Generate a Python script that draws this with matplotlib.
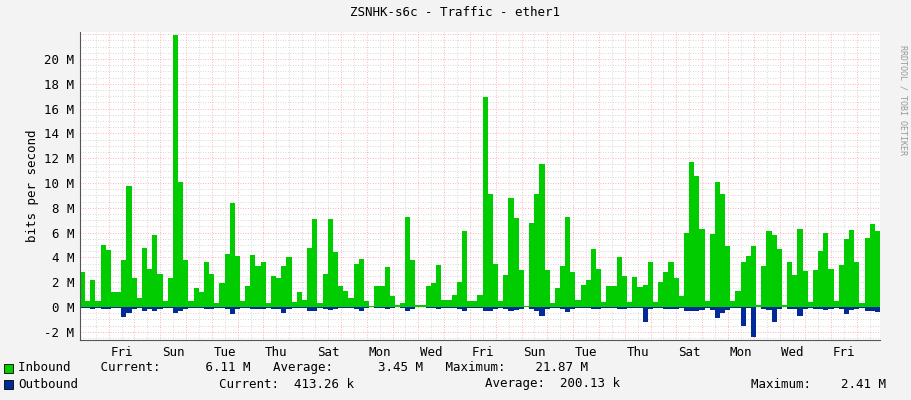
import numpy as np
import matplotlib.pyplot as plt

# inbound / outbound traffic, Mbit/s, one value per sample (about 5 h each)
inbound = [2.8, 0.5, 2.2, 0.5, 5.0, 4.6, 1.2, 1.2, 3.8, 9.8,
           2.3, 0.7, 4.8, 3.1, 5.8, 2.7, 0.5, 2.3, 21.9, 10.1,
           3.8, 0.5, 1.5, 1.2, 3.6, 2.7, 0.3, 1.9, 4.3, 8.4,
           4.1, 0.5, 1.7, 4.2, 3.3, 3.6, 0.3, 2.5, 2.3, 3.3,
           4.0, 0.4, 1.2, 0.6, 4.8, 7.1, 0.3, 2.7, 7.1, 4.4,
           1.7, 1.3, 0.7, 3.5, 3.9, 0.5, 0.1, 1.7, 1.7, 3.2,
           0.9, 0.2, 0.3, 7.3, 3.8, 0.2, 0.2, 1.7, 1.9, 3.4,
           0.6, 0.6, 1.0, 2.0, 6.1, 0.5, 0.5, 1.0, 16.9,
           9.1, 3.5, 0.5, 2.6, 8.8, 7.2, 3.0, 0.05, 6.8, 9.1,
           11.5, 3.0, 0.3, 1.5, 3.3, 7.3, 2.8, 0.6, 1.8, 2.2,
           4.7, 3.1, 0.4, 1.7, 1.7, 4.0, 2.5, 0.4, 2.4, 1.6,
           1.8, 3.6, 0.4, 2.0, 2.8, 3.6, 2.3, 0.9, 6.0, 11.7,
           10.6, 6.3, 0.5, 5.9, 10.1, 9.1, 4.9, 0.5, 1.3, 3.6,
           4.1, 4.9, 0.2, 3.3, 6.1, 5.8, 4.7, 0.2, 3.6, 2.6,
           6.3, 2.9, 0.4, 3.0, 4.5, 6.0, 3.1, 0.5, 3.4, 5.5,
           6.2, 3.6, 0.3, 5.6, 6.7, 6.1]
outbound = [-0.1, -0.05, -0.15, -0.05, -0.2, -0.2, -0.1, -0.1, -0.8, -0.5,
            -0.15, -0.05, -0.3, -0.15, -0.3, -0.15, -0.05, -0.1, -0.45, -0.3,
            -0.15, -0.05, -0.1, -0.1, -0.2, -0.15, -0.05, -0.1, -0.2, -0.6,
            -0.2, -0.05, -0.1, -0.2, -0.15, -0.2, -0.05, -0.15, -0.15, -0.5,
            -0.2, -0.05, -0.1, -0.05, -0.3, -0.3, -0.05, -0.15, -0.25, -0.2,
            -0.1, -0.1, -0.05, -0.2, -0.3, -0.05, -0.02, -0.1, -0.1, -0.15,
            -0.05, -0.02, -0.05, -0.3, -0.2, -0.02, -0.02, -0.1, -0.1, -0.15,
            -0.05, -0.05, -0.1, -0.2, -0.3, -0.05, -0.05, -0.1, -0.3,
            -0.3, -0.2, -0.05, -0.15, -0.3, -0.25, -0.15, -0.02, -0.2, -0.3,
            -0.7, -0.2, -0.05, -0.1, -0.2, -0.4, -0.15, -0.05, -0.1, -0.1,
            -0.2, -0.15, -0.05, -0.1, -0.1, -0.2, -0.15, -0.05, -0.1, -0.1,
            -1.2, -0.2, -0.05, -0.1, -0.15, -0.2, -0.15, -0.05, -0.3, -0.35,
            -0.35, -0.25, -0.05, -0.25, -0.9, -0.5, -0.25, -0.05, -0.05, -1.5,
            -0.1, -2.4, -0.02, -0.15, -0.25, -1.2, -0.2, -0.02, -0.15, -0.15,
            -0.7, -0.15, -0.05, -0.15, -0.2, -0.25, -0.15, -0.05, -0.15, -0.6,
            -0.25, -0.15, -0.05, -0.3, -0.35, -0.4]
day_labels = ["Fri", "Sun", "Tue", "Thu", "Sat", "Mon", "Wed", "Fri",
              "Sun", "Tue", "Thu", "Sat", "Mon", "Wed", "Fri"]

n_days = 31.0
first_midnight = 1.11
mono = "DejaVu Sans Mono"

fig = plt.figure(figsize=(9.11, 4.0), dpi=100, facecolor="#f3f3f3")
ax = fig.add_axes([80 / 911, 60 / 400, 800 / 911, 308 / 400], facecolor="white")

edges = np.linspace(0, n_days, len(inbound) + 1)
w = edges[1] - edges[0]
ax.bar(edges[:-1], inbound, width=w, align="edge", color="#00cc00", linewidth=0)
ax.bar(edges[:-1], outbound, width=w, align="edge", color="#002a97", linewidth=0)

# grid like rrdtool
for x in np.arange(first_midnight - 0.5, n_days, 0.5):
    major = abs((x - first_midnight) % 1) < 1e-6
    ax.axvline(x, color="#ff9999" if major else "#cccccc", lw=0.6,
               ls=(0, (1, 2)), zorder=0)
for y in np.arange(-2.5, 22.1, 0.5):
    major = abs(y % 2) < 1e-6
    ax.axhline(y, color="#ff9999" if major else "#cccccc", lw=0.6,
               ls=(0, (1, 2)), zorder=0)

ax.set_xlim(0, n_days)
ax.set_ylim(-2.66, 22.18)
ax.set_xticks([first_midnight + 0.5 + 2 * k for k in range(len(day_labels))])
ax.set_xticklabels(day_labels, fontfamily=mono, fontsize=9)
yt = np.arange(-2, 21, 2)
ax.set_yticks(yt)
ax.set_yticklabels([f"{v} M" for v in yt], fontfamily=mono, fontsize=9)
ax.tick_params(length=0, pad=4)
for s in ["top", "right"]:
    ax.spines[s].set_visible(False)
for s in ["left", "bottom"]:
    ax.spines[s].set_color("#555555")
    ax.spines[s].set_linewidth(0.8)
ax.set_ylabel("bits per second", fontfamily=mono, fontsize=9)

fig.text(0.5, 1 - 13 / 400, "ZSNHK-s6c - Traffic - ether1", ha="center",
         va="center", fontfamily=mono, fontsize=9)
fig.text(903 / 911, 0.75, "RRDTOOL / TOBI OETIKER", rotation=270, ha="center",
         va="center", fontfamily=mono, fontsize=6, color="#999999")

# legend
fig.patches.append(plt.Rectangle((4 / 911, 1 - 373 / 400), 9 / 911, 9 / 400,
                                 transform=fig.transFigure, facecolor="#00cc00",
                                 edgecolor="black", lw=0.6))
fig.patches.append(plt.Rectangle((4 / 911, 1 - 389 / 400), 9 / 911, 9 / 400,
                                 transform=fig.transFigure, facecolor="#002a97",
                                 edgecolor="black", lw=0.6))
fig.text(18 / 911, 1 - 368 / 400,
         "Inbound    Current:      6.11 M   Average:      3.45 M   Maximum:    21.87 M",
         va="center", fontfamily=mono, fontsize=9)
fig.text(18 / 911, 1 - 384 / 400, "Outbound", va="center", fontfamily=mono, fontsize=9)
fig.text(219 / 911, 1 - 384 / 400, "Current:  413.26 k", va="center",
         fontfamily=mono, fontsize=9)
fig.text(485 / 911, 1 - 384 / 400, "Average:  200.13 k", va="center",
         fontfamily=mono, fontsize=9)
fig.text(751 / 911, 1 - 384 / 400, "Maximum:    2.41 M", va="center",
         fontfamily=mono, fontsize=9)

fig.savefig("out.png", dpi=100, facecolor=fig.get_facecolor())
